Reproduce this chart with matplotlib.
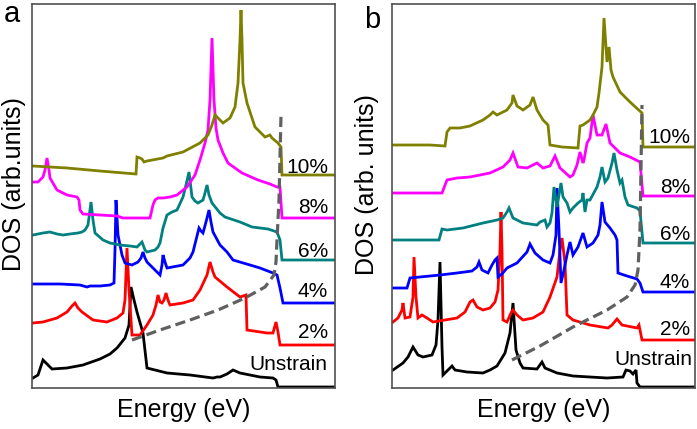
import matplotlib
matplotlib.use("Agg")
from matplotlib import pyplot as plt

plt.rcParams['font.family'] = ['Liberation Sans', 'DejaVu Sans']

# ---- panel a : energy (arb.) and DOS (arb.) ----
a_unstrain_E = [1, 6, 11, 15, 20, 35, 51, 68, 78, 85, 93, 97, 99, 102, 105, 111, 115, 135, 158, 181, 185, 188, 195, 198, 201, 208, 228, 241, 244, 246, 303]
a_unstrain_D = [10, 13, 28, 24, 19, 20, 23, 29, 34, 40, 50, 63, 101, 88, 76, 55, 20, 15, 13, 10, 11, 11, 14, 16, 18, 15, 11, 10, 8, 1, 1]

a_2_E = [1, 11, 25, 35, 40, 43, 46, 50, 61, 75, 85, 91, 93, 95, 97, 100, 108, 115, 121, 124, 126, 128, 130, 132, 134, 136, 138, 151, 161, 168, 175, 178, 181, 183, 195, 208, 214, 215, 235, 241, 244, 246, 248, 303]
a_2_D = [65, 66, 70, 76, 82, 85, 80, 76, 68, 66, 70, 75, 88, 140, 98, 53, 53, 63, 73, 83, 93, 86, 85, 88, 95, 88, 83, 85, 88, 98, 113, 126, 116, 111, 101, 91, 93, 58, 55, 55, 66, 56, 43, 43]

a_4_E = [1, 28, 48, 55, 58, 68, 78, 82, 83, 84, 86, 90, 93, 100, 106, 109, 111, 113, 115, 123, 128, 130, 131, 133, 135, 151, 158, 161, 165, 167, 169, 171, 174, 177, 179, 181, 188, 195, 201, 218, 228, 241, 245, 248, 251, 303]
a_4_D = [104, 104, 103, 101, 102, 102, 103, 105, 138, 188, 153, 133, 125, 123, 126, 130, 136, 130, 126, 118, 113, 123, 133, 126, 120, 123, 130, 136, 152, 160, 157, 155, 166, 178, 166, 156, 143, 136, 128, 123, 120, 115, 113, 100, 85, 85]

a_6_E = [1, 11, 18, 25, 31, 38, 46, 50, 53, 56, 59, 61, 63, 71, 78, 88, 98, 105, 108, 110, 113, 115, 123, 126, 128, 131, 135, 140, 145, 151, 154, 157, 160, 163, 166, 171, 173, 175, 177, 180, 188, 193, 208, 220, 236, 245, 248, 250, 303]
a_6_D = [153, 155, 156, 154, 153, 154, 155, 156, 158, 163, 186, 168, 155, 148, 145, 143, 142, 141, 144, 146, 138, 136, 138, 141, 145, 160, 173, 176, 178, 191, 203, 216, 191, 187, 185, 188, 195, 203, 193, 185, 175, 171, 166, 161, 159, 156, 148, 128, 128]

a_8_E = [1, 6, 11, 13, 15, 17, 18, 25, 35, 45, 47, 48, 51, 68, 85, 91, 118, 121, 123, 126, 131, 138, 145, 155, 163, 168, 173, 176, 178, 180, 182, 184, 186, 191, 196, 203, 210, 226, 238, 245, 248, 250, 303]
a_8_D = [206, 206, 211, 218, 230, 218, 210, 198, 193, 191, 188, 178, 174, 173, 172, 170, 170, 183, 188, 190, 190, 191, 193, 201, 213, 228, 245, 258, 288, 350, 288, 260, 248, 235, 225, 220, 215, 208, 204, 201, 201, 170, 170]

a_10_E = [1, 35, 68, 104, 105, 108, 110, 112, 115, 131, 135, 151, 168, 176, 180, 183, 186, 191, 198, 203, 206, 208, 209, 210, 211, 215, 223, 233, 238, 240, 246, 249, 250, 303]
a_10_D = [222, 220, 217, 214, 231, 230, 229, 226, 227, 230, 232, 236, 245, 253, 263, 273, 270, 265, 270, 281, 305, 348, 378, 348, 305, 285, 261, 251, 253, 250, 245, 241, 213, 213]

a_edge_E = [100, 128, 158, 186, 213, 233, 242, 244, 245, 247, 249]
a_edge_D = [48, 58, 68, 78, 90, 101, 113, 126, 148, 188, 273]

# ---- panel b ----
b_unstrain_E = [1, 11, 16, 18, 21, 26, 31, 40, 44, 46, 48, 50, 51, 56, 60, 63, 75, 91, 98, 105, 113, 118, 121, 124, 128, 131, 145, 150, 153, 165, 181, 215, 231, 234, 238, 241, 244, 245, 248, 303]
b_unstrain_D = [18, 25, 31, 35, 41, 33, 31, 33, 43, 68, 126, 41, 13, 18, 22, 18, 16, 15, 18, 22, 35, 55, 85, 38, 25, 20, 19, 26, 20, 15, 12, 10, 11, 18, 17, 14, 18, 5, 1, 1]

b_2_E = [1, 6, 10, 11, 13, 18, 21, 22, 24, 26, 30, 35, 41, 65, 73, 78, 81, 85, 91, 98, 103, 106, 108, 109, 110, 111, 115, 119, 121, 125, 131, 141, 151, 158, 165, 168, 170, 173, 175, 181, 198, 216, 220, 225, 230, 245, 247, 250, 303]
b_2_D = [66, 70, 78, 85, 70, 71, 91, 131, 91, 70, 73, 70, 66, 70, 76, 86, 88, 81, 78, 80, 86, 98, 138, 176, 138, 68, 66, 75, 78, 73, 68, 70, 76, 91, 111, 138, 150, 125, 73, 68, 63, 60, 63, 69, 63, 60, 63, 48, 48]

b_4_E = [1, 15, 18, 48, 65, 80, 85, 87, 90, 96, 100, 103, 105, 106, 110, 115, 125, 135, 138, 143, 151, 158, 161, 164, 165, 167, 169, 172, 175, 178, 181, 186, 191, 195, 201, 206, 208, 210, 213, 218, 223, 225, 226, 235, 245, 248, 251, 303]
b_4_D = [100, 100, 110, 113, 115, 117, 121, 126, 118, 115, 123, 128, 130, 111, 114, 120, 125, 136, 144, 135, 128, 125, 133, 153, 200, 158, 105, 118, 133, 146, 133, 141, 155, 141, 145, 153, 163, 186, 166, 160, 153, 148, 115, 112, 109, 105, 96, 96]

b_6_E = [1, 47, 50, 55, 71, 91, 105, 111, 115, 117, 121, 131, 138, 145, 148, 153, 155, 158, 160, 162, 165, 169, 171, 175, 178, 181, 186, 190, 191, 193, 195, 198, 205, 208, 210, 213, 216, 220, 222, 225, 228, 230, 233, 236, 245, 248, 251, 303]
b_6_D = [148, 148, 159, 158, 160, 165, 168, 170, 176, 180, 170, 165, 164, 163, 166, 168, 161, 165, 175, 201, 181, 205, 191, 185, 176, 180, 185, 188, 195, 176, 188, 188, 201, 211, 221, 206, 210, 225, 235, 218, 205, 208, 191, 183, 180, 177, 145, 145]

b_8_E = [1, 50, 55, 65, 78, 98, 111, 118, 121, 126, 135, 145, 151, 158, 163, 168, 178, 181, 185, 188, 191, 192, 195, 198, 201, 205, 210, 214, 218, 228, 238, 248, 251, 303]
b_8_D = [195, 195, 208, 210, 211, 215, 221, 228, 235, 221, 220, 225, 220, 222, 232, 220, 211, 213, 223, 236, 225, 228, 245, 250, 273, 253, 253, 264, 245, 235, 231, 226, 192, 192]

b_10_E = [1, 38, 53, 55, 58, 68, 78, 91, 98, 101, 105, 115, 120, 121, 125, 131, 138, 141, 145, 151, 156, 158, 170, 186, 188, 191, 198, 201, 205, 207, 210, 212, 215, 217, 219, 221, 228, 238, 250, 251, 303]
b_10_D = [243, 243, 242, 256, 260, 260, 262, 268, 273, 276, 273, 278, 285, 293, 282, 278, 283, 291, 278, 268, 263, 243, 241, 240, 262, 263, 268, 273, 281, 295, 321, 370, 326, 341, 318, 311, 296, 286, 275, 241, 241]

b_edge_E = [120, 148, 181, 215, 235, 243, 246, 248, 250]
b_edge_D = [28, 42, 61, 78, 91, 103, 118, 158, 283]

strain_labels = ["Unstrain", "2%", "4%", "6%", "8%", "10%"]
colors = ["black", "#ff0000", "#0000ff", "#008080", "#ff00ff", "#808000"]
a_label_E = [295, 296, 296, 296, 296, 296]
a_label_D = [18, 50, 91, 131, 175, 215]
b_label_E = [300, 298, 298, 298, 298, 298]
b_label_D = [23, 53, 100, 148, 195, 245]

fig = plt.figure(figsize=(6.97, 4.29), dpi=100)
ax_a = fig.add_axes([32 / 697, 41 / 429, 303 / 697, 384 / 429])
ax_b = fig.add_axes([392 / 697, 41 / 429, 303 / 697, 384 / 429])

panels = [
    (ax_a, [(a_unstrain_E, a_unstrain_D), (a_2_E, a_2_D), (a_4_E, a_4_D), (a_6_E, a_6_D), (a_8_E, a_8_D), (a_10_E, a_10_D)],
     (a_edge_E, a_edge_D), a_label_E, a_label_D, "DOS (arb.units)", -0.06),
    (ax_b, [(b_unstrain_E, b_unstrain_D), (b_2_E, b_2_D), (b_4_E, b_4_D), (b_6_E, b_6_D), (b_8_E, b_8_D), (b_10_E, b_10_D)],
     (b_edge_E, b_edge_D), b_label_E, b_label_D, "DOS (arb. units)", -0.084),
]

for ax, curves, edge, lab_E, lab_D, ylab, ylab_x in panels:
    for (E, D), c in zip(curves, colors):
        ax.plot(E, D, color=c, lw=2.0, solid_joinstyle='miter')
    ax.plot(edge[0], edge[1], color='#606060', lw=2.3, ls=(0, (3.2, 1.6)))
    for txt, x, y in zip(strain_labels, lab_E, lab_D):
        ax.text(x, y, txt, ha='right', va='baseline', fontsize=15)
    ax.set_xlim(0, 303)
    ax.set_ylim(0, 384)
    ax.set_xticks([])
    ax.set_yticks([])
    for s in ax.spines.values():
        s.set_color('#505050')
        s.set_linewidth(1.2)
    ax.set_xlabel("Energy (eV)", fontsize=18, labelpad=7)
    ax.set_ylabel(ylab, fontsize=18, va='center')
    ax.yaxis.set_label_coords(ylab_x, 0.53)

fig.text(4 / 697, 1 - 22 / 429, "a", fontsize=21, va='baseline')
fig.text(364 / 697, 1 - 28 / 429, "b", fontsize=21, va='baseline')

plt.savefig("out.png", dpi=100)
